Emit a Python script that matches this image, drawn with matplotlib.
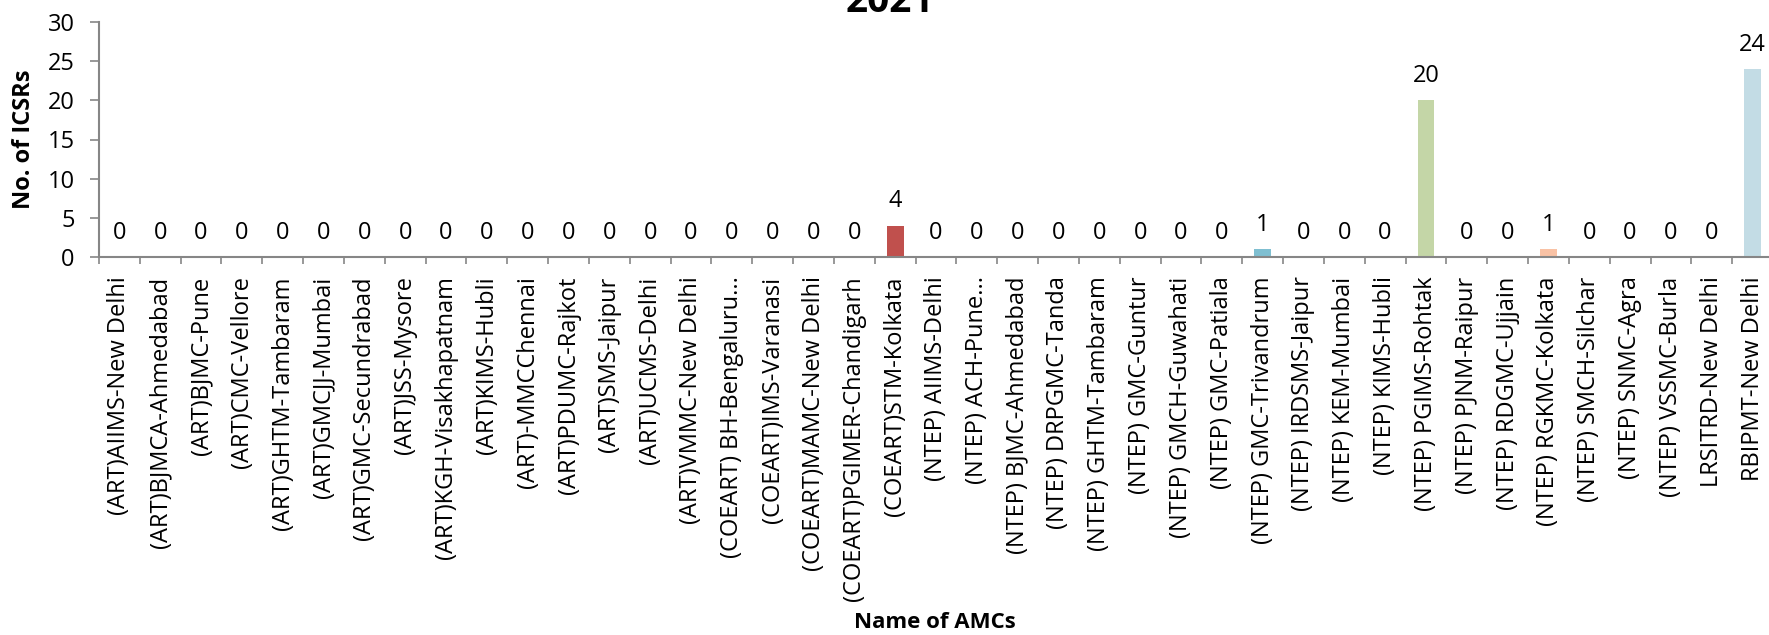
import matplotlib.pyplot as plt
import numpy as np

# AMC names and ICSR counts for 2021
amcs = [
    "(ART)AIIMS-New Delhi", "(ART)BJMCA-Ahmedabad", "(ART)BJMC-Pune", "(ART)CMC-Vellore",
    "(ART)GHTM-Tambaram", "(ART)GMCJJ-Mumbai", "(ART)GMC-Secundrabad", "(ART)JSS-Mysore",
    "(ART)KGH-Visakhapatnam", "(ART)KIMS-Hubli", "(ART)-MMCChennai", "(ART)PDUMC-Rajkot",
    "(ART)SMS-Jaipur", "(ART)UCMS-Delhi", "(ART)VMMC-New Delhi", "(COEART) BH-Bengaluru...",
    "(COEART)IMS-Varanasi", "(COEART)MAMC-New Delhi", "(COEART)PGIMER-Chandigarh",
    "(COEART)STM-Kolkata", "(NTEP) AIIMS-Delhi", "(NTEP) ACH-Pune...", "(NTEP) BJMC-Ahmedabad",
    "(NTEP) DRPGMC-Tanda", "(NTEP) GHTM-Tambaram", "(NTEP) GMC-Guntur", "(NTEP) GMCH-Guwahati",
    "(NTEP) GMC-Patiala", "(NTEP) GMC-Trivandrum", "(NTEP) IRDSMS-Jaipur", "(NTEP) KEM-Mumbai",
    "(NTEP) KIMS-Hubli", "(NTEP) PGIMS-Rohtak", "(NTEP) PJNM-Raipur", "(NTEP) RDGMC-Ujjain",
    "(NTEP) RGKMC-Kolkata", "(NTEP) SMCH-Silchar", "(NTEP) SNMC-Agra", "(NTEP) VSSMC-Burla",
    "LRSITRD-New Delhi", "RBIPMT-New Delhi",
]
icsrs = [0, 0, 0, 0, 0, 0, 0, 0, 0, 0, 0, 0, 0, 0, 0, 0, 0, 0, 0,
         4, 0, 0, 0, 0, 0, 0, 0, 0, 1, 0, 0, 0, 20, 0, 0, 1, 0, 0, 0, 0, 24]

# Excel "vary colours by point" - only the non-zero bars are visible
bar_colors = {
    "(COEART)STM-Kolkata": "#C0504D",
    "(NTEP) GMC-Trivandrum": "#7FBFD1",
    "(NTEP) PGIMS-Rohtak": "#C4D6A7",
    "(NTEP) RGKMC-Kolkata": "#F9C2A5",
    "RBIPMT-New Delhi": "#C3DCE5",
}
colors = [bar_colors.get(a, "#4F81BD") for a in amcs]

plt.rcParams["font.family"] = ["Open Sans", "DejaVu Sans"]
axis_grey = "#868686"

fig = plt.figure(figsize=(17.69, 6.35), dpi=100)
ax = fig.add_axes([99 / 1769, 1 - 257 / 635, 1674 / 1769, (257 - 22) / 635])

x = np.arange(len(amcs))
bars = ax.bar(x, icsrs, width=0.41, color=colors)

# value labels above every bar
for xi, v in zip(x, icsrs):
    ax.annotate(str(v), (xi, v), xytext=(0, 17.5), textcoords="offset points",
                ha="center", va="center", fontsize=17, color="black")

ax.set_xlim(-0.5, len(amcs) - 0.5)
ax.set_ylim(0, 30)
ax.set_yticks(range(0, 31, 5))
ax.tick_params(axis="y", labelsize=17, length=6.5, width=1.2, color=axis_grey, pad=11)

ax.set_xticks(x)
ax.set_xticklabels(amcs, rotation=90, ha="center", va="top", fontsize=17)
ax.tick_params(axis="x", length=0, pad=14)
ax.set_xticks(np.arange(-0.5, len(amcs), 1), minor=True)
ax.tick_params(axis="x", which="minor", length=5, width=1.2, color=axis_grey)

for side in ["top", "right"]:
    ax.spines[side].set_visible(False)
for side in ["left", "bottom"]:
    ax.spines[side].set_color(axis_grey)
    ax.spines[side].set_linewidth(1.5)

ax.set_ylabel("No. of ICSRs", fontsize=17, fontweight="bold", labelpad=8)
fig.text(935 / 1769, 1 - 623 / 635, "Name of AMCs", ha="center", va="center",
         fontsize=16, fontweight="bold")
fig.text(890 / 1769, 1 - 12 / 635, "2021", ha="center", va="baseline",
         fontsize=28, fontweight="bold")

fig.savefig("out.png", dpi=100)
